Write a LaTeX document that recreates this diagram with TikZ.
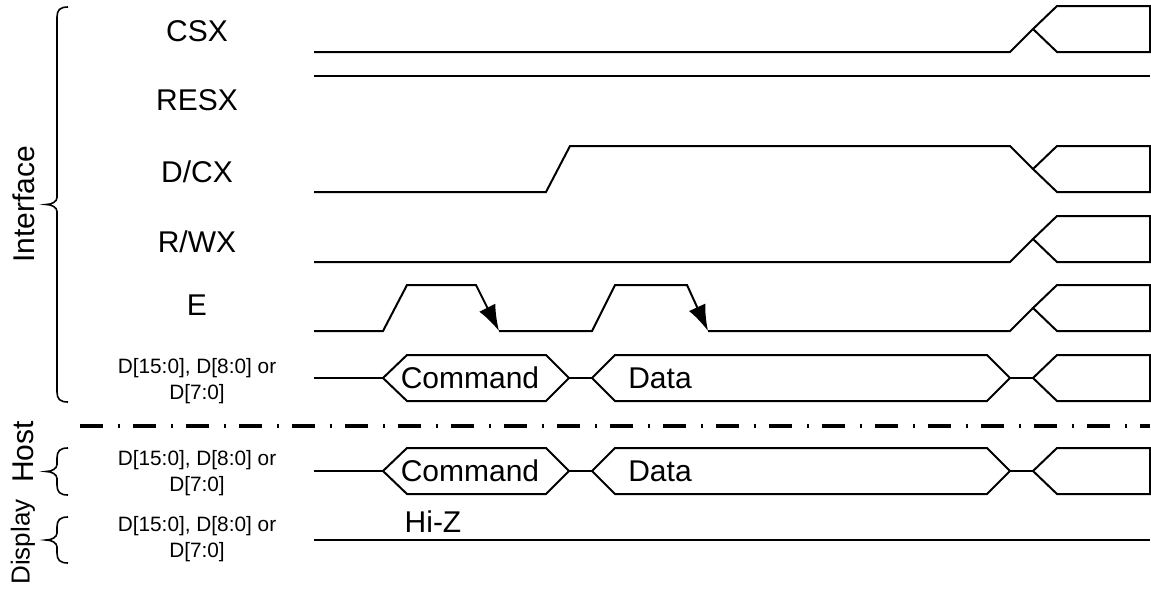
\documentclass[tikz,border=0pt]{standalone}
\usepackage{fontspec}
\setmainfont{Liberation Sans}
\usetikzlibrary{arrows.meta}
\tikzset{
    wave/.style={line width=1pt},
    fall/.style={wave,-{Latex[length=13pt,width=9pt]}},
    sig/.style={font=\fontsize{15}{18}\selectfont,inner sep=0pt},
    busname/.style={font=\fontsize{10.4}{12.8}\selectfont,align=center,inner sep=0pt},
    brc/.style={line width=0.8pt},
}
\begin{document}
\begin{tikzpicture}[x=0.5pt,y=-0.5pt]
    \useasboundingbox (0,0) rectangle (1151,589);
    \node[sig](csx) at (197,31) {CSX};
    \node[sig](resx) at (197,100) {RESX};
    \node[sig](dcx) at (197,172) {D/CX};
    \node[sig](rwx) at (197,242) {R/WX};
    \node[sig](e) at (197,305) {E};
    \node[busname](d) at (197,381) {D[15:0], D[8:0] or\\D[7:0]};
    \node[busname](dhost) at (197,473) {D[15:0], D[8:0] or\\D[7:0]};
    \node[busname](ddisp) at (197,539) {D[15:0], D[8:0] or\\D[7:0]};
    \node[sig,rotate=90](ifc) at (24,204) {Interface};
    \node[sig,rotate=90](host) at (23,452) {Host};
    \node[sig,rotate=90,font=\fontsize{13}{16}\selectfont](disp) at (23,542) {Display};
    \foreach \t/\b in {7/402,448/495,517/563}
        \draw[brc] (68,\t) .. controls (60,\t) and (57,\t+3) .. (57,\t+10)--(57,{(\t+\b)/2-7})
            .. controls (57,{(\t+\b)/2-3}) and (52,{(\t+\b)/2}) .. (46,{(\t+\b)/2})
            .. controls (52,{(\t+\b)/2}) and (57,{(\t+\b)/2+3}) .. (57,{(\t+\b)/2+7})--(57,\b-10)
            .. controls (57,\b-3) and (60,\b) .. (68,\b);
    \draw[wave] (314,52)--(1010,52)--(1033,29);
    \draw[wave] (314,76)--(1150,76);
    \draw[wave] (314,192)--(546,192)--(570,146)--(1010,146)--(1033,169);
    \draw[wave] (314,262)--(1010,262)--(1033,239);
    \draw[fall] (314,331)--(383,331)--(407,285)--(476,285)--(499,331);
    \draw[fall] (499,331)--(592,331)--(615,285)--(687,285)--(708,331);
    \draw[wave] (708,331)--(1010,331)--(1033,308);
    \foreach \m in {378,471} {
        \draw[wave] (314,\m)--(383,\m);
        \draw[wave] (383,\m)--(407,\m-23)--(546,\m-23)--(569,\m)--(546,\m+23)--(407,\m+23)--cycle;
        \draw[wave] (569,\m)--(592,\m);
        \draw[wave] (592,\m)--(615,\m-23)--(987,\m-23)--(1010,\m)--(987,\m+23)--(615,\m+23)--cycle;
        \draw[wave] (1010,\m)--(1033,\m);
        \node[sig](cmd\m) at (470,\m) {Command};
        \node[sig](data\m) at (660,\m) {Data};
    }
    \foreach \m in {29,169,239,308,378,471}
        \draw[wave] (1033,\m)--(1057,\m-23)--(1150,\m-23)--(1150,\m+23)--(1057,\m+23)--cycle;
    \draw[line width=1.6pt,dash pattern=on 11.5pt off 7.5pt on 1pt off 6.5pt] (80,426)--(1150,426);
    \node[sig,anchor=base](hiz) at (433,532) {Hi-Z};
    \draw[line width=1.3pt] (314,540)--(1150,540);
\end{tikzpicture}
\end{document}
